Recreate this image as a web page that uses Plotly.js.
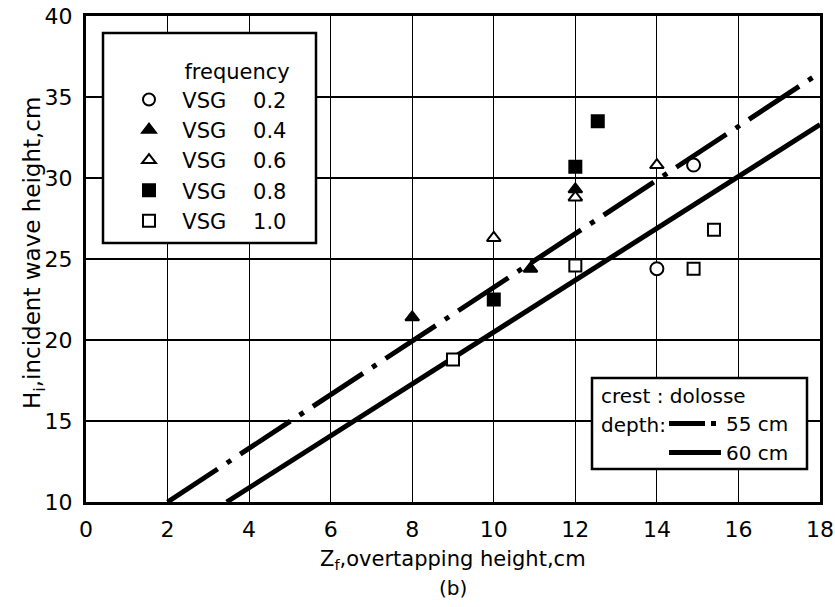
<!DOCTYPE html>
<html><head><meta charset="utf-8">
<script src="https://cdn.plot.ly/plotly-3.0.1.min.js"></script>
<style>html,body{margin:0;padding:0;background:#fff}#chart{width:835px;height:607px}</style>
</head><body><div id="chart"></div>
<script>
// ---- data ----
const freqLabels = ["0.2", "0.4", "0.6", "0.8", "1.0"];
const vsg02_x = [14.0, 14.9];           const vsg02_y = [24.4, 30.8];
const vsg04_x = [8.0, 10.9, 12.0];      const vsg04_y = [21.4, 24.4, 29.3];
const vsg06_x = [10.0, 12.0, 14.0];     const vsg06_y = [26.3, 28.8, 30.8];
const vsg08_x = [10.0, 12.0, 12.55];    const vsg08_y = [22.5, 30.7, 33.5];
const vsg10_x = [9.0, 12.0, 14.9, 15.4]; const vsg10_y = [18.8, 24.6, 24.4, 26.8];
const depthLabels = ["55 cm", "60 cm"];
const depth55_x = [2.0, 18.0];  const depth55_y = [10.0, 36.5];
const depth60_x = [3.45, 18.0]; const depth60_y = [10.0, 33.3];
const xTicks = [0, 2, 4, 6, 8, 10, 12, 14, 16, 18];
const yTicks = [10, 15, 20, 25, 30, 35, 40];

// ---- styling ----
const FONT = "DejaVu Sans, Liberation Sans, sans-serif";
const INK = "#000";
const NB = "&nbsp;";
const seriesX = [vsg02_x, vsg04_x, vsg06_x, vsg08_x, vsg10_x];
const seriesY = [vsg02_y, vsg04_y, vsg06_y, vsg08_y, vsg10_y];
const symbols = ["circle", "triangle-up", "triangle-up", "square", "square"];
const fills = ["#fff", INK, "#fff", INK, "#fff"];
const sizes = [13, 12, 12, 12, 12];

const traces = [];
// fitted lines (the dash-dot one gets a legend proxy whose short sample shows "dash + dot")
traces.push({x: depth55_x, y: depth55_y, mode: "lines", name: depthLabels[0], showlegend: false,
  line: {color: INK, width: 5, dash: "60px,11px,5px,11px"}});
traces.push({x: [null], y: [null], mode: "lines", name: depthLabels[0], legend: "legend2",
  line: {color: INK, width: 5, dash: "36px,6px,5px,40px"}});
traces.push({x: depth60_x, y: depth60_y, mode: "lines", name: depthLabels[1], legend: "legend2",
  line: {color: INK, width: 5}});
for (let i = 0; i < 5; i++) {
  traces.push({x: seriesX[i], y: seriesY[i], mode: "markers", legendgroup: "g" + i,
    name: NB.repeat(2) + "VSG" + NB.repeat(4) + freqLabels[i],
    marker: {symbol: symbols[i], size: sizes[i], color: fills[i], line: {color: INK, width: 2}}});
}

const axisBase = {showgrid: true, gridcolor: INK, gridwidth: 1.2, showline: true, linecolor: INK,
  linewidth: 3, mirror: true, ticks: "outside", ticklen: 6, tickcolor: "rgba(0,0,0,0)", zeroline: false,
  tickfont: {family: FONT, size: 22, color: INK}, automargin: false};

const layout = {
  width: 835, height: 607,
  margin: {l: 86, r: 15, t: 16, b: 105, autoexpand: false},
  paper_bgcolor: "#fff", plot_bgcolor: "#fff",
  font: {family: FONT, color: INK, size: 20},
  xaxis: Object.assign({}, axisBase, {range: [0, 18], tickvals: xTicks}),
  yaxis: Object.assign({}, axisBase, {range: [10, 40], tickvals: yTicks}),
  legend: {xref: "container", yref: "container", x: 129 / 835, y: 1 - 52 / 607, xanchor: "left", yanchor: "top",
    bgcolor: "rgba(0,0,0,0)", borderwidth: 0, font: {family: FONT, size: 21, color: INK},
    title: {text: NB.repeat(8) + "frequency", font: {family: FONT, size: 21, color: INK}},
    tracegroupgap: 13, itemsizing: "constant", traceorder: "normal", itemwidth: 30},
  legend2: {xref: "container", yref: "container", x: 664 / 835, y: 1 - 404 / 607, xanchor: "left", yanchor: "top",
    bgcolor: "rgba(0,0,0,0)", borderwidth: 0, font: {family: FONT, size: 20, color: INK}, itemwidth: 52,
    traceorder: "normal"},
  shapes: [
    {type: "rect", xref: "paper", yref: "paper", x0: (103 - 86) / 734, x1: (316 - 86) / 734,
      y0: (502 - 243) / 486, y1: (502 - 33) / 486, fillcolor: "#fff", line: {color: INK, width: 2.5}, layer: "above"},
    {type: "rect", xref: "paper", yref: "paper", x0: (592 - 86) / 734, x1: (807 - 86) / 734,
      y0: (502 - 469) / 486, y1: (502 - 378) / 486, fillcolor: "#fff", line: {color: INK, width: 2.5}, layer: "above"}
  ],
  annotations: [
    {xref: "paper", yref: "paper", x: (599 - 86) / 734, y: (502 - 396) / 486, xanchor: "left", yanchor: "middle",
      text: "crest : dolosse", showarrow: false, font: {family: FONT, size: 20, color: INK}},
    {xref: "paper", yref: "paper", x: (599 - 86) / 734, y: (502 - 425) / 486, xanchor: "left", yanchor: "middle",
      text: "depth:", showarrow: false, font: {family: FONT, size: 20, color: INK}},
    {xref: "paper", yref: "paper", x: 0.5, y: (502 - 560) / 486, xanchor: "center", yanchor: "middle",
      text: "Z<sub>f</sub>,overtapping height,cm", showarrow: false, font: {family: FONT, size: 21, color: INK}},
    {xref: "paper", yref: "paper", x: 0.5, y: (502 - 588) / 486, xanchor: "center", yanchor: "middle",
      text: "(b)", showarrow: false, font: {family: FONT, size: 20, color: INK}},
    {xref: "paper", yref: "paper", x: (34 - 86) / 734, y: (502 - 253) / 486, xanchor: "center", yanchor: "middle",
      text: "H<sub>i</sub>,incident wave height,cm", textangle: -90, showarrow: false,
      font: {family: FONT, size: 23, color: INK}}
  ]
};

Plotly.newPlot("chart", traces, layout, {displayModeBar: false, staticPlot: true});
</script>
</body></html>
